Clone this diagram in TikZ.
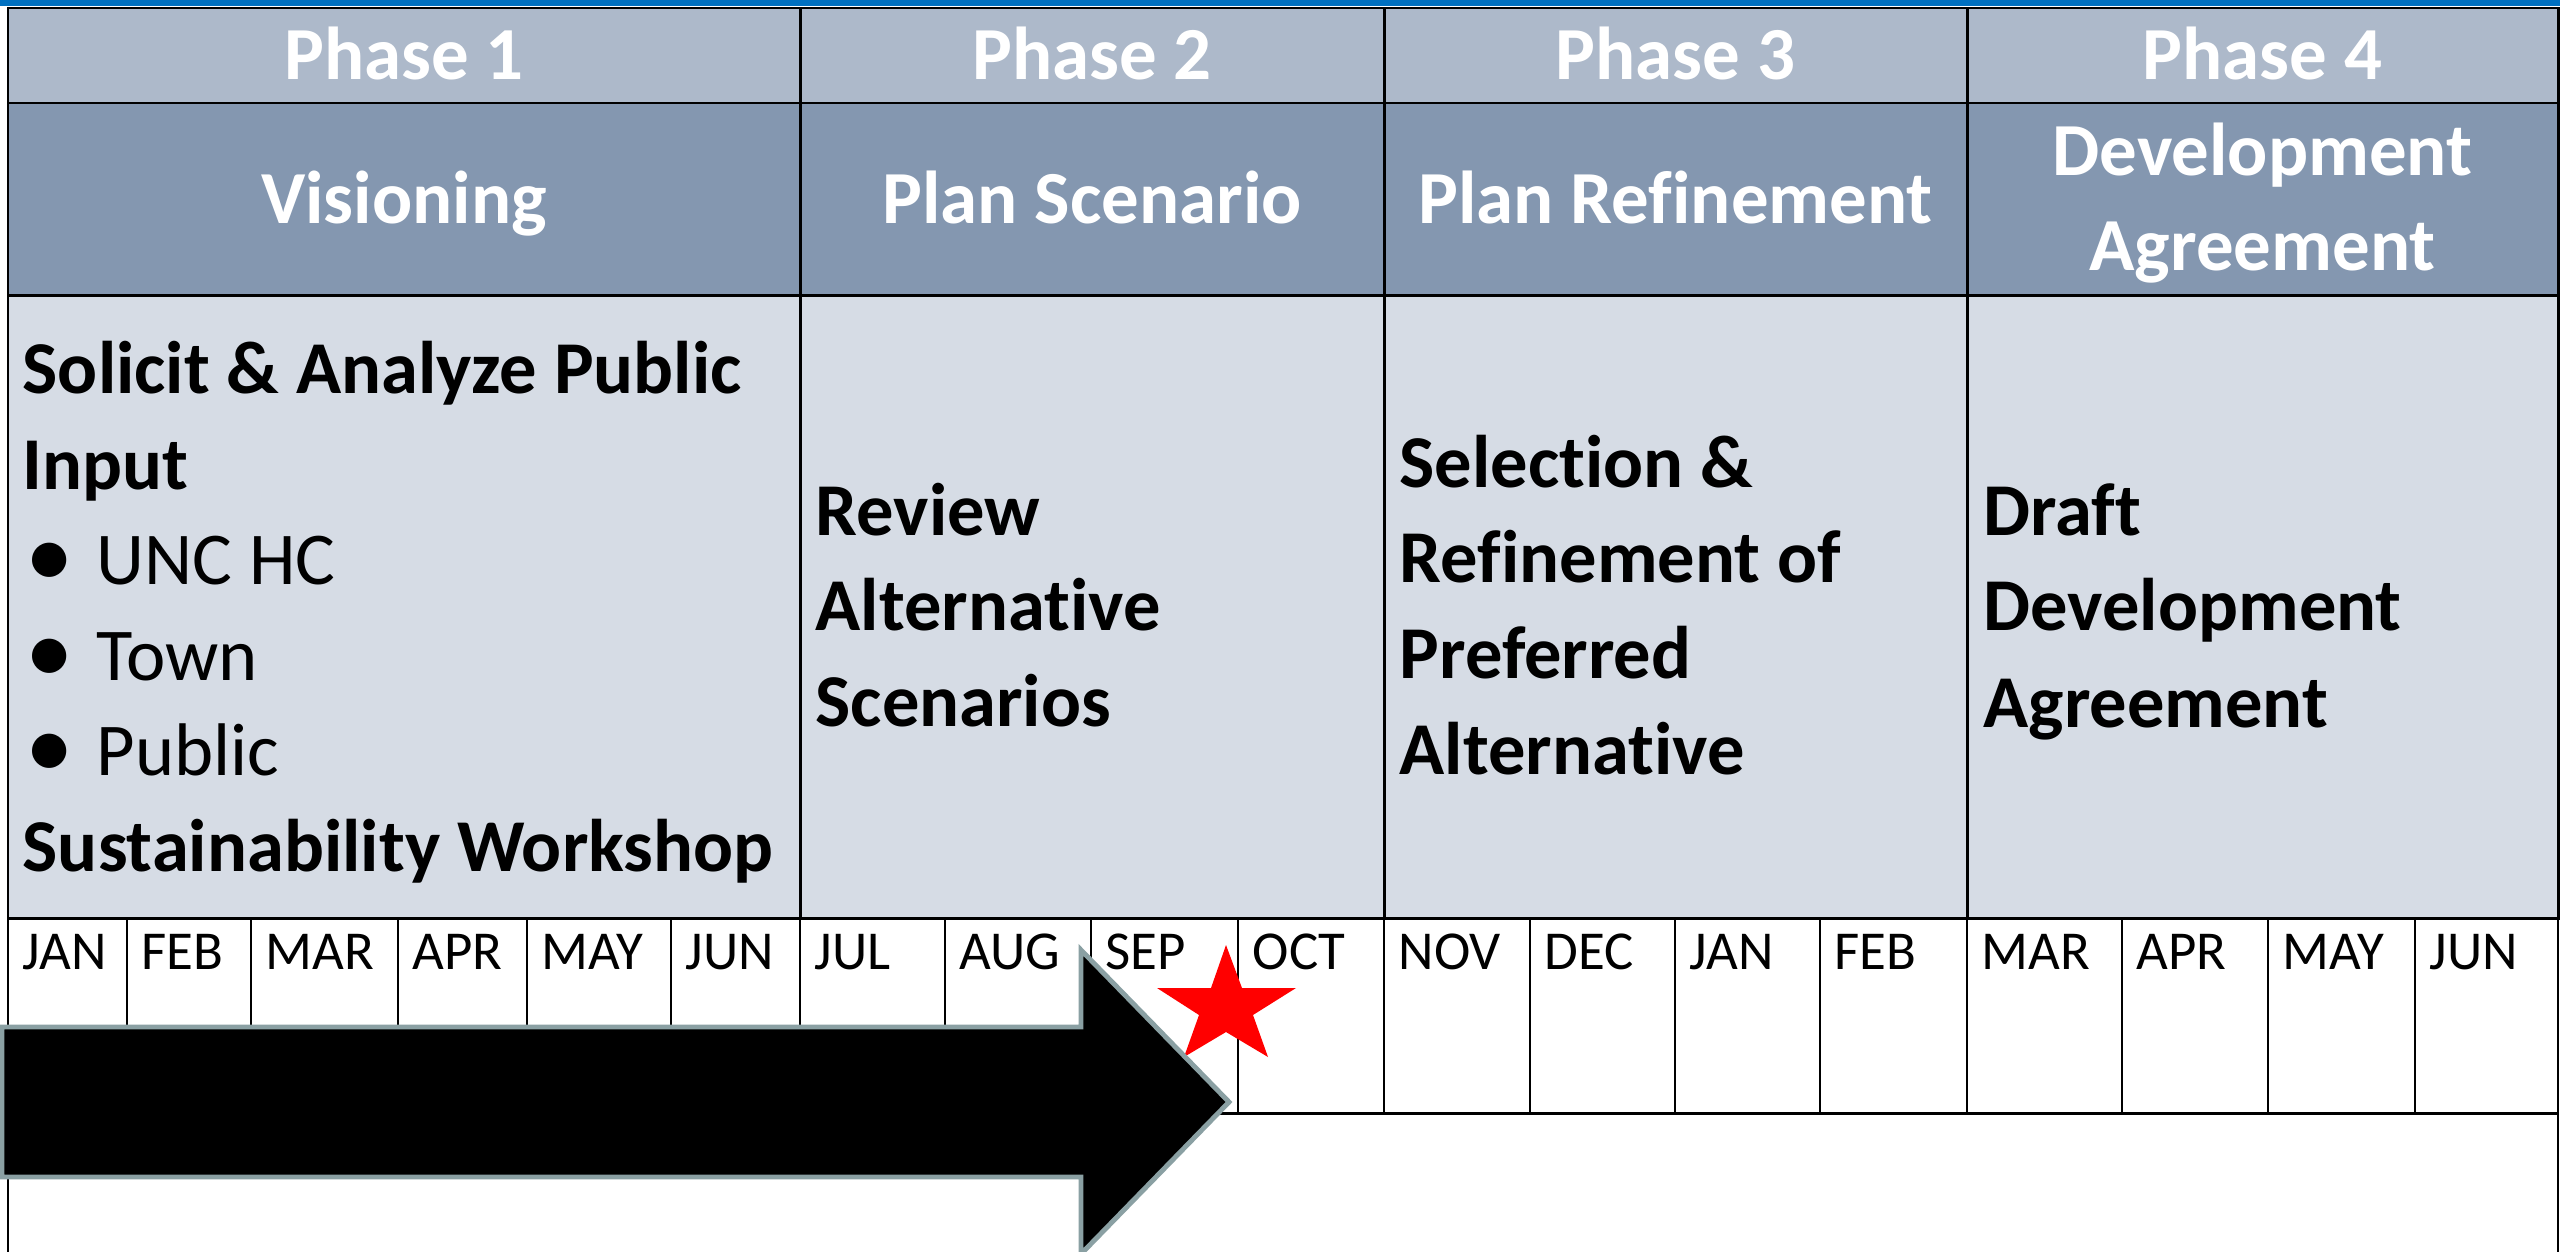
\documentclass[tikz,border=0pt]{standalone}
\usepackage{fontspec}
\setmainfont{Carlito}[Ligatures={NoCommon}]
\definecolor{phasefill}{HTML}{ADB9CA}
\definecolor{headfill}{HTML}{8497B0}
\definecolor{bodyfill}{HTML}{D6DCE5}
\definecolor{topblue}{HTML}{0070C0}
\definecolor{arrowedge}{HTML}{8AA0A3}
\definecolor{starred}{HTML}{FF0000}
\newcommand\pu{0.01cm}
\begin{document}
\begin{tikzpicture}[x=0.01cm,y=-0.01cm,
  cellbox/.style={draw=black, line width=0.85pt, inner sep=0pt, outer sep=0pt},
  monthbox/.style={draw=black, line width=0.55pt, inner sep=0pt, outer sep=0pt, fill=white, minimum height=195*\pu},
  headtxt/.style={font=\fontsize{21.3pt}{27pt}\selectfont\bfseries, text=white, inner sep=0pt, anchor=base},
  bodytxt/.style={font=\fontsize{21.2pt}{27pt}\selectfont\bfseries, inner sep=0pt, anchor=base west},
  itemtxt/.style={font=\fontsize{21.2pt}{27pt}\selectfont, inner sep=0pt, anchor=base west},
  monthtxt/.style={font=\fontsize{15.6pt}{19pt}\selectfont, inner sep=0pt, anchor=base west},
]
\useasboundingbox (0,0) rectangle (2560,1251);
\clip (0,0) rectangle (2560,1251);
\fill[white] (0,0) rectangle (2560,1251);
\fill[topblue] (0,0) rectangle (2560,6);

% phase row
\node[cellbox, fill=phasefill, minimum width=792*\pu, minimum height=95*\pu] (p1) at (404,55.5) {};
\node[cellbox, fill=phasefill, minimum width=584*\pu, minimum height=95*\pu] (p2) at (1092,55.5) {};
\node[cellbox, fill=phasefill, minimum width=583*\pu, minimum height=95*\pu] (p3) at (1675.5,55.5) {};
\node[cellbox, fill=phasefill, minimum width=591*\pu, minimum height=95*\pu] (p4) at (2262.5,55.5) {};
% header row
\node[cellbox, fill=headfill, minimum width=792*\pu, minimum height=192*\pu] (h1) at (404,199) {};
\node[cellbox, fill=headfill, minimum width=584*\pu, minimum height=192*\pu] (h2) at (1092,199) {};
\node[cellbox, fill=headfill, minimum width=583*\pu, minimum height=192*\pu] (h3) at (1675.5,199) {};
\node[cellbox, fill=headfill, minimum width=591*\pu, minimum height=192*\pu] (h4) at (2262.5,199) {};
% body row
\node[cellbox, fill=bodyfill, minimum width=792*\pu, minimum height=623*\pu] (b1) at (404,606.5) {};
\node[cellbox, fill=bodyfill, minimum width=584*\pu, minimum height=623*\pu] (b2) at (1092,606.5) {};
\node[cellbox, fill=bodyfill, minimum width=583*\pu, minimum height=623*\pu] (b3) at (1675.5,606.5) {};
\node[cellbox, fill=bodyfill, minimum width=591*\pu, minimum height=623*\pu] (b4) at (2262.5,606.5) {};

% month row
\foreach \l/\r/\t [count=\i] in {8/127/JAN, 127/251/FEB, 251/398/MAR, 398/527/APR, 527/671/MAY, 671/800/JUN,
  800/945/JUL, 945/1091/AUG, 1091/1238/SEP, 1238/1384/OCT, 1384/1530/NOV, 1530/1675/DEC,
  1675/1820/JAN, 1820/1967/FEB, 1967/2122/MAR, 2122/2268/APR, 2268/2415/MAY, 2415/2558/JUN}{
  \node[monthbox, minimum width={(\r-\l)*\pu}] (m\i) at ({(\l+\r)/2},1015.5) {};
  \node[monthtxt] (mt\i) at ({\l+14},969) {\t};
}
\draw[line width=0.85pt] (m1.north west) -- (m18.north east);
\draw[line width=0.85pt] (m1.south west) -- (m18.south east);
\draw[line width=0.55pt] (m1.south west) -- ++(0,160);
\draw[line width=0.55pt] (m18.south east) -- ++(0,160);

% phase titles
\node[headtxt] (tp1) at (404,79) {Phase 1};
\node[headtxt] (tp2) at (1092,79) {Phase 2};
\node[headtxt] (tp3) at (1675.5,79) {Phase 3};
\node[headtxt] (tp4) at (2262.5,79) {Phase 4};
% header titles
\node[headtxt] (th1) at (404,223) {Visioning};
\node[headtxt] (th2) at (1092,223) {Plan Scenario};
\node[headtxt] (th3) at (1675.5,223) {Plan Refinement};
\node[headtxt] (th4a) at (2262.5,175) {Development};
\node[headtxt] (th4b) at (2262.5,270) {Agreement};

% body column 1
\node[bodytxt] (c1a) at (22,393) {Solicit \& Analyze Public};
\node[bodytxt] (c1b) at (22,489) {Input};
\node[itemtxt] (c1c) at (25,584) {\raisebox{-1pt}{\scalebox{1.3}{•}}};
\node[itemtxt] (c1d) at (96,584) {UNC HC};
\node[itemtxt] (c1e) at (25,680) {\raisebox{-1pt}{\scalebox{1.3}{•}}};
\node[itemtxt] (c1f) at (96,680) {Town};
\node[itemtxt] (c1g) at (25,775) {\raisebox{-1pt}{\scalebox{1.3}{•}}};
\node[itemtxt] (c1h) at (96,775) {Public};
\node[bodytxt] (c1i) at (22,871) {Sustainability Workshop};
% body column 2
\node[bodytxt] (c2a) at (815,535) {Review};
\node[bodytxt] (c2b) at (815,630) {Alternative};
\node[bodytxt] (c2c) at (815,726) {Scenarios};
% body column 3
\node[bodytxt] (c3a) at (1399,487) {Selection \&};
\node[bodytxt] (c3b) at (1399,582) {Refinement of};
\node[bodytxt] (c3c) at (1399,678) {Preferred};
\node[bodytxt] (c3d) at (1399,774) {Alternative};
% body column 4
\node[bodytxt] (c4a) at (1983,535) {Draft};
\node[bodytxt] (c4b) at (1983,630) {Development};
\node[bodytxt] (c4c) at (1983,727) {Agreement};

% star
\fill[starred] (1226,945) -- (1242,988) -- (1296,988) -- (1253,1015) -- (1268,1057)
  -- (1226,1032) -- (1184,1057) -- (1199,1015) -- (1157,988) -- (1211,988) -- cycle;

% arrow
\draw[draw=arrowedge, fill=black, line width=1.4pt, line join=miter]
  (2,1027) -- (1081,1027) -- (1081,950) -- (1229,1102) -- (1081,1254) -- (1081,1177) -- (2,1177) -- cycle;
\end{tikzpicture}
\end{document}
